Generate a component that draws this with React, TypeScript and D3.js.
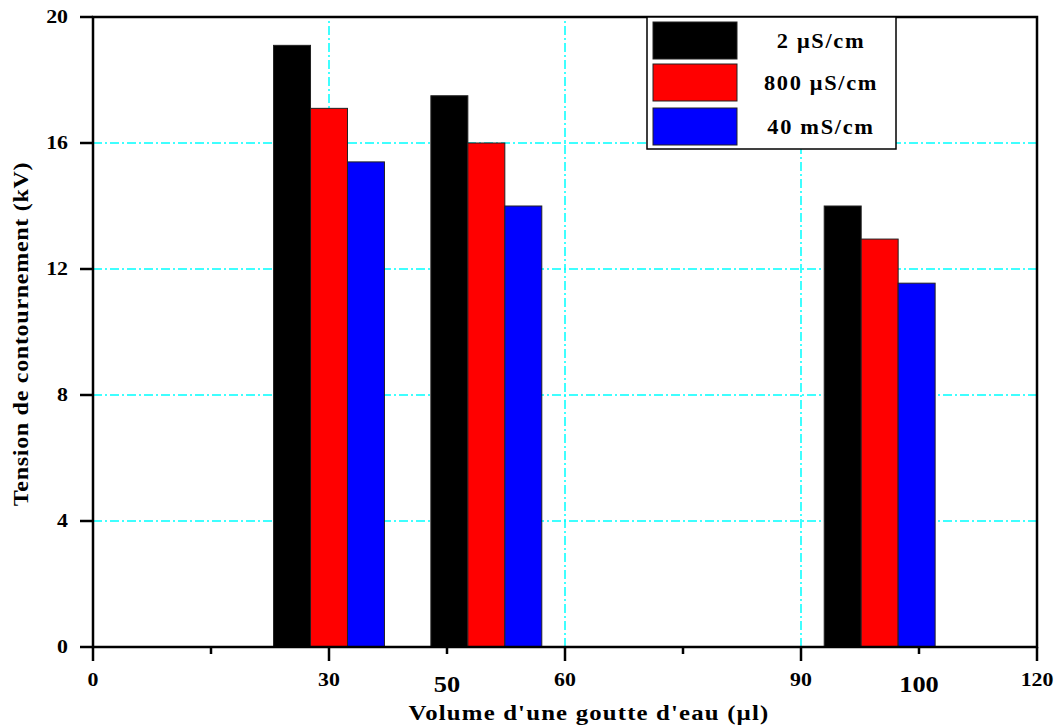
import React from "react";
import * as d3 from "d3";

// Drop volumes (µl) and flashover voltages (kV) per water conductivity
const volumes = [30, 50, 100];
const seriesNames = ["2 \u03bcS/cm", "800 \u03bcS/cm", "40 mS/cm"];
const seriesColors = ["#000000", "#ff0000", "#0000ff"];
const voltage2uS = [19.1, 17.5, 14.0];
const voltage800uS = [17.1, 16.0, 12.95];
const voltage40mS = [15.4, 14.0, 11.55];

const xMajorTicks = [0, 30, 60, 90, 120];
const xMinorTicks = [15, 45, 75, 105];
const xExtraLabels = [
  { at: 45, text: "50" },
  { at: 105, text: "100" },
];
const yTicks = [0, 4, 8, 12, 16, 20];
const yGrid = [4, 8, 12, 16];
const xGrid = [30, 60, 90];

const W = 1059;
const H = 728;
const FONT = "'Liberation Serif', 'Times New Roman', serif";

type TxtProps = {
  x: number;
  y: number;
  size: number;
  anchor?: "start" | "middle" | "end";
  sx?: number;
  rotate?: number;
  spacing?: number;
  children: React.ReactNode;
};

function Txt({ x, y, size, anchor = "middle", sx = 1.15, rotate = 0, spacing = 0, children }: TxtProps) {
  return (
    <text
      transform={`translate(${x},${y}) rotate(${rotate}) scale(${sx},1)`}
      textAnchor={anchor}
      dominantBaseline="central"
      fontFamily={FONT}
      fontWeight="bold"
      fontSize={size}
      letterSpacing={spacing}
      fill="#000"
    >
      {children}
    </text>
  );
}

export default function App() {
  const x = d3.scaleLinear().domain([0, 120]).range([93, 1037]);
  const y = d3.scaleLinear().domain([0, 20]).range([647, 17]);

  const barW = 4.7;
  const series = [voltage2uS, voltage800uS, voltage40mS];
  const offsets = [-barW, 0, barW];

  const gridDash = "9,3,2,3";

  const legend = { x0: 647, y0: 17, x1: 896, y1: 149 };
  const legendRows = [41, 83, 127];

  return (
    <svg
      width={W}
      height={H}
      style={{ position: "absolute", left: 0, top: 0, background: "#fff" }}
    >
      <rect x={0} y={0} width={W} height={H} fill="#fff" />

      {/* grid */}
      {yGrid.map((v) => (
        <line
          key={`gy${v}`}
          x1={x(0)}
          x2={x(120)}
          y1={y(v)}
          y2={y(v)}
          stroke="#00ffff"
          strokeWidth={1.5}
          strokeDasharray={gridDash}
        />
      ))}
      {xGrid.map((v) => (
        <line
          key={`gx${v}`}
          x1={x(v)}
          x2={x(v)}
          y1={y(0)}
          y2={y(20)}
          stroke="#00ffff"
          strokeWidth={1.5}
          strokeDasharray={gridDash}
        />
      ))}

      {/* bars */}
      {series.map((vals, si) =>
        vals.map((v, i) => {
          const cx = volumes[i] + offsets[si];
          const x0 = x(cx - barW / 2);
          const x1 = x(cx + barW / 2);
          return (
            <rect
              key={`b${si}-${i}`}
              x={x0}
              y={y(v)}
              width={x1 - x0}
              height={y(0) - y(v)}
              fill={seriesColors[si]}
              stroke="#222"
              strokeWidth={1}
            />
          );
        })
      )}

      {/* frame */}
      <rect
        x={x(0)}
        y={y(20)}
        width={x(120) - x(0)}
        height={y(0) - y(20)}
        fill="none"
        stroke="#000"
        strokeWidth={2.5}
      />

      {/* x ticks */}
      {xMajorTicks.map((v) => (
        <line key={`xt${v}`} x1={x(v)} x2={x(v)} y1={y(0)} y2={y(0) + 14} stroke="#000" strokeWidth={2.5} />
      ))}
      {xMinorTicks.map((v) => (
        <line key={`xm${v}`} x1={x(v)} x2={x(v)} y1={y(0)} y2={y(0) + 7} stroke="#000" strokeWidth={2.5} />
      ))}
      {xMajorTicks.map((v) => (
        <Txt key={`xl${v}`} x={x(v)} y={680} size={19}>
          {v}
        </Txt>
      ))}
      {xExtraLabels.map((d) => (
        <Txt key={`xe${d.text}`} x={x(d.at)} y={684} size={24} sx={1.1}>
          {d.text}
        </Txt>
      ))}

      {/* y ticks */}
      {yTicks.map((v) => (
        <line key={`yt${v}`} x1={x(0) - 13} x2={x(0)} y1={y(v)} y2={y(v)} stroke="#000" strokeWidth={2.5} />
      ))}
      {yTicks.map((v) => (
        <Txt key={`yl${v}`} x={68} y={y(v)} size={19} anchor="end">
          {v}
        </Txt>
      ))}

      {/* axis titles */}
      <Txt x={589} y={713} size={21} sx={1.18} spacing={1}>
        Volume d'une goutte d'eau (µl)
      </Txt>
      <Txt x={21} y={334} size={20} sx={1.2} rotate={-90} spacing={0.6}>
        Tension de contournement (kV)
      </Txt>

      {/* legend */}
      <rect
        x={legend.x0}
        y={legend.y0}
        width={legend.x1 - legend.x0}
        height={legend.y1 - legend.y0}
        fill="#fff"
        stroke="#000"
        strokeWidth={1.5}
      />
      {seriesNames.map((name, i) => (
        <g key={`lg${i}`}>
          <rect
            x={653}
            y={legendRows[i] - 19}
            width={84}
            height={37}
            fill={seriesColors[i]}
            stroke="#222"
            strokeWidth={1}
          />
          <Txt x={821} y={legendRows[i]} size={20} sx={1.12} spacing={1.5}>
            {name}
          </Txt>
        </g>
      ))}
    </svg>
  );
}
